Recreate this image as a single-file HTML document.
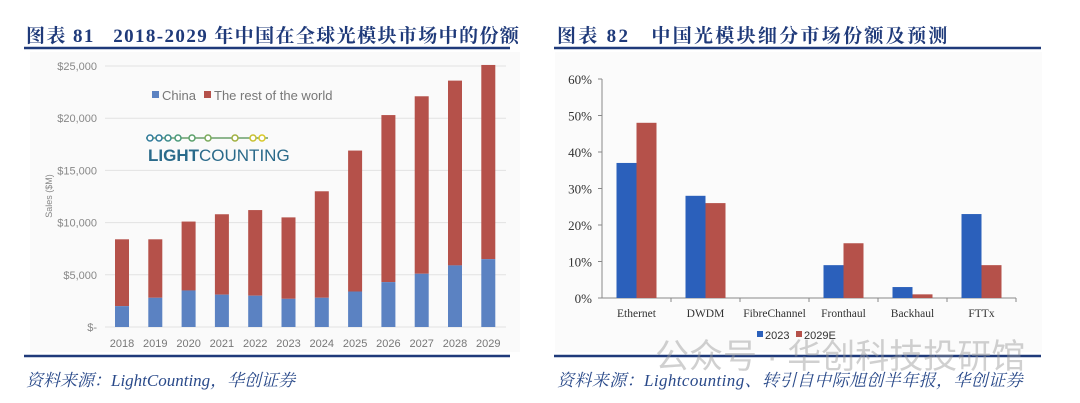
<!DOCTYPE html>
<html><head><meta charset="utf-8"><style>
body{margin:0;background:#fff;width:1080px;height:403px;overflow:hidden;position:relative;font-family:"Liberation Serif","Noto Serif CJK SC",serif}
.t{position:absolute;color:#1f3a7a;font-weight:bold;font-size:19px;white-space:nowrap}
.f{position:absolute;color:#2a4a8a;font-style:italic;font-size:17px;white-space:nowrap}
</style></head><body>
<div class="t" style="left:26px;top:21px;letter-spacing:1.4px">图表 81&nbsp;&nbsp;&nbsp;2018-2029 年中国在全球光模块市场中的份额</div>
<div class="t" style="left:557px;top:21px;letter-spacing:2.3px">图表 82&nbsp;&nbsp;&nbsp;中国光模块细分市场份额及预测</div>
<div class="f" style="left:26px;top:366px">资料来源：LightCounting，华创证券</div>
<div class="f" style="left:557px;top:366px;letter-spacing:0.4px">资料来源：Lightcounting、转引自中际旭创半年报，华创证券</div>
<svg width="1080" height="403" style="position:absolute;left:0;top:0" id="s">
<rect x="30" y="52" width="490" height="300" fill="#fafafa"/>
<rect x="555" y="52" width="487" height="300" fill="#fbfbfb"/>
<line x1="24" y1="48" x2="510" y2="48" stroke="#1f3a7a" stroke-width="2.5"/>
<line x1="24" y1="356" x2="510" y2="356" stroke="#1f3a7a" stroke-width="2.5"/>
<line x1="554" y1="48" x2="1041" y2="48" stroke="#1f3a7a" stroke-width="2.5"/>
<line x1="554" y1="356" x2="1041" y2="356" stroke="#1f3a7a" stroke-width="2.5"/>
<g id="L"></g><g id="R"></g>
<g>
<line x1="146" y1="138" x2="268" y2="138" stroke="#6aa06a" stroke-width="1.5"/>
<g fill="#fff" stroke-width="1.5">
<circle cx="150" cy="138" r="3" stroke="#2f7a9a"/><circle cx="159" cy="138" r="3" stroke="#2f7a9a"/><circle cx="168" cy="138" r="3" stroke="#3a8a8a"/><circle cx="178" cy="138" r="3" stroke="#4a9a7a"/><circle cx="192" cy="138" r="3" stroke="#5aa06a"/><circle cx="208" cy="138" r="3" stroke="#7aaa5a"/><circle cx="235" cy="138" r="3" stroke="#a0b040"/><circle cx="253" cy="138" r="3" stroke="#c8c030"/><circle cx="262" cy="138" r="3" stroke="#d8c828"/></g>
<text x="148" y="161" font-family="Liberation Sans" font-size="17" fill="#2a6a8a"><tspan font-weight="bold">LIGHT</tspan>COUNTING</text>
</g>
<text x="655" y="368" font-family="Liberation Sans,Noto Sans CJK SC,sans-serif" font-size="34" fill="#999" opacity="0.45">公众号 · 华创科技投研馆</text>
</svg>
<script>
const NS='http://www.w3.org/2000/svg';
function mk(p,t,a,txt){const e=document.createElementNS(NS,t);for(const k in a)e.setAttribute(k,a[k]);if(txt!==undefined)e.textContent=txt;p.appendChild(e);return e;}
// Left chart data
const years=['2018','2019','2020','2021','2022','2023','2024','2025','2026','2027','2028','2029'];
const china=[2000,2800,3500,3100,3000,2700,2800,3400,4300,5100,5900,6500];
const total=[8400,8400,10100,10800,11200,10500,13000,16900,20300,22100,23600,25100];
const yTicks=[0,5000,10000,15000,20000,25000];
const yTickLabels=['$-','$5,000','$10,000','$15,000','$20,000','$25,000'];
// Right chart data
const cats=['Ethernet','DWDM','FibreChannel','Fronthaul','Backhaul','FTTx'];
const s2023=[37,28,0,9,3,23];
const s2029=[48,26,0,15,1,9];
const pTicks=[0,10,20,30,40,50,60];
const pTickLabels=['0%','10%','20%','30%','40%','50%','60%'];

const L=document.getElementById('L');
const ly=v=>327-v/25000*261;
const lx=i=>122+i*33.3;
yTicks.forEach((v,i)=>{
 let g=mk(L,'line',{x1:105,x2:506,y1:ly(v),y2:ly(v),stroke:'#e2e2e2','stroke-width':1});
 
 
 let t=mk(L,'text',{x:97,y:ly(v)+4,'text-anchor':'end','font-family':'Liberation Sans','font-size':11,fill:'#888'},yTickLabels[i]);
 
 
});
years.forEach((y,i)=>{
 let r=mk(L,'rect',{x:lx(i)-7,y:ly(total[i]),width:14,height:ly(china[i])-ly(total[i]),fill:'#b5514a'});
 
 
 let c=mk(L,'rect',{x:lx(i)-7,y:ly(china[i]),width:14,height:ly(0)-ly(china[i]),fill:'#5b82c2'});
 
 
 let t=mk(L,'text',{x:lx(i),y:347,'text-anchor':'middle','font-family':'Liberation Sans','font-size':11,fill:'#777'},y);
 
 
});
let yt=mk(L,'text',{x:52,y:196,'text-anchor':'middle','font-family':'Liberation Sans','font-size':9,fill:'#888',transform:'rotate(-90 52 196)'},'Sales ($M)');


let lg=mk(L,'g',{});


mk(lg,'rect',{x:152,y:91,width:7,height:7,fill:'#5b82c2'});
mk(lg,'text',{x:162,y:100,'font-family':'Liberation Sans','font-size':13,fill:'#777'},'China');
mk(lg,'rect',{x:204,y:91,width:7,height:7,fill:'#b5514a'});
mk(lg,'text',{x:214,y:100,'font-family':'Liberation Sans','font-size':13,fill:'#777'},'The rest of the world');

const R=document.getElementById('R');
const ry=v=>298-v/60*219;
const gx0=602,gw=69;
mk(R,'line',{x1:602,x2:602,y1:79,y2:298,stroke:'#888'});
mk(R,'line',{x1:602,x2:1016,y1:298,y2:298,stroke:'#888'});
pTicks.forEach((v,i)=>{
 mk(R,'line',{x1:598,x2:602,y1:ry(v),y2:ry(v),stroke:'#888'});
 let t=mk(R,'text',{x:592,y:ry(v)+5,'text-anchor':'end','font-size':13,fill:'#333'},pTickLabels[i]);
 
 
});
cats.forEach((c,i)=>{
 const cx=gx0+gw*(i+0.5);
 mk(R,'line',{x1:gx0+gw*(i+1),x2:gx0+gw*(i+1),y1:298,y2:302,stroke:'#888'});
 let a=mk(R,'rect',{x:cx-20,y:ry(s2023[i]),width:20,height:ry(0)-ry(s2023[i]),fill:'#2b60bb'});
 
 
 let b=mk(R,'rect',{x:cx,y:ry(s2029[i]),width:20,height:ry(0)-ry(s2029[i]),fill:'#b5514a'});
 
 
 let t=mk(R,'text',{x:cx,y:317,'text-anchor':'middle','font-size':11.5,fill:'#333'},c);
 
 
});
let rg=mk(R,'g',{});


mk(rg,'rect',{x:757,y:331,width:6,height:6,fill:'#2b60bb'});
mk(rg,'text',{x:765,y:339,'font-family':'Liberation Sans','font-size':11,fill:'#333'},'2023');
mk(rg,'rect',{x:796,y:331,width:6,height:6,fill:'#b5514a'});
mk(rg,'text',{x:804,y:339,'font-family':'Liberation Sans','font-size':11,fill:'#333'},'2029E');
</script>
</body></html>
